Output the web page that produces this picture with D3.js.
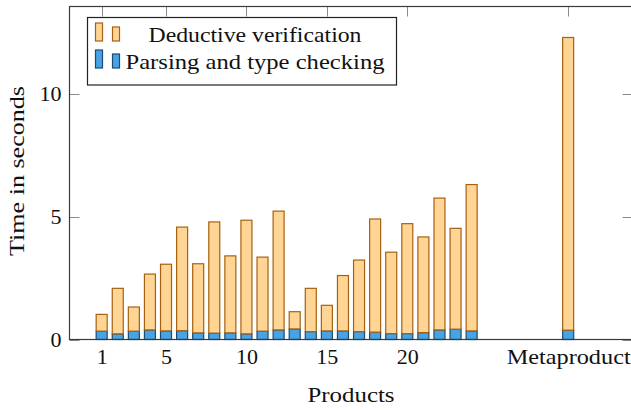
<!DOCTYPE html>
<html>
<head>
<meta charset="utf-8">
<script src="https://cdn.jsdelivr.net/npm/d3@7"></script>
<style>
  html, body { margin: 0; padding: 0; background: #fff; }
  svg { display: block; }
</style>
</head>
<body>
<svg id="chart" width="631" height="410"></svg>
<script>
// ---- data ----
const categories = ["1","2","3","4","5","6","7","8","9","10","11","12","13","14","15","16","17","18","19","20","21","22","23","24","Metaproduct"];
const positions  = [1,2,3,4,5,6,7,8,9,10,11,12,13,14,15,16,17,18,19,20,21,22,23,24,30];
const parsing    = [0.34,0.23,0.34,0.39,0.35,0.36,0.27,0.26,0.27,0.23,0.34,0.39,0.43,0.32,0.35,0.35,0.32,0.30,0.24,0.24,0.28,0.39,0.42,0.35,0.38];
const deductive  = [0.68,1.85,0.98,2.27,2.71,4.21,2.81,4.52,3.13,4.62,3.01,4.83,0.70,1.76,1.04,2.25,2.91,4.60,3.31,4.47,3.89,5.36,4.10,5.95,11.90];
const xTickValues = [1,5,10,15,20,30];
const xTickLabels = ["1","5","10","15","20","Metaproduct"];
const yTickValues = [0,5,10];
const seriesNames = ["Deductive verification","Parsing and type checking"];

// ---- layout ----
const FONT = "'Liberation Serif'";
const FS = "22px";
const svg = d3.select("#chart");
const L = 69.5, R = 632.5, T = 6.5, B = 339.5;
const x = d3.scaleLinear().domain([-1, 34]).range([L, R]);
const y = d3.scaleLinear().domain([0, 13.54]).range([B, T]);
const barW = 11;
const tickLen = 10;

const colors = {
  orangeFill: "#FFD596", orangeStroke: "#A8600F",
  blueFill: "#47A3E3", blueStroke: "#1B4A75"
};

function styleText(sel) {
  return sel.style("font-family", FONT).style("font-size", FS).style("fill", "#111");
}

const data = categories.map((c, i) => ({ c, p: positions[i], parse: parsing[i], ded: deductive[i] }));
const stack = d3.stack().keys(["parse","ded"])(data);

// ticks (drawn first; bars cover them)
const tickG = svg.append("g").attr("stroke", "#8a8a8a").attr("stroke-width", 1);
xTickValues.forEach(v => {
  const xx = Math.round(x(v)) + 0.5;
  tickG.append("line").attr("x1", xx).attr("x2", xx).attr("y1", T).attr("y2", T + tickLen);
  tickG.append("line").attr("x1", xx).attr("x2", xx).attr("y1", B).attr("y2", B - tickLen);
});
yTickValues.forEach(v => {
  const yy = Math.round(y(v)) + 0.5;
  tickG.append("line").attr("x1", L).attr("x2", L + tickLen).attr("y1", yy).attr("y2", yy);
  tickG.append("line").attr("x1", R).attr("x2", R - tickLen).attr("y1", yy).attr("y2", yy);
});

// bars
const fills = [colors.blueFill, colors.orangeFill];
const strokes = [colors.blueStroke, colors.orangeStroke];
stack.forEach((layer, li) => {
  svg.append("g").selectAll("rect").data(layer).join("rect")
    .attr("x", d => x(d.data.p) - barW / 2)
    .attr("width", barW)
    .attr("y", d => y(d[1]))
    .attr("height", d => y(d[0]) - y(d[1]))
    .attr("fill", fills[li])
    .attr("stroke", strokes[li])
    .attr("stroke-width", 1.2);
});

// frame
svg.append("rect").attr("x", L).attr("y", T).attr("width", R - L).attr("height", B - T)
  .attr("fill", "none").attr("stroke", "#3a3a3a").attr("stroke-width", 1.2);

// axes labels via d3 axes (tick labels only)
const xAxis = d3.axisBottom(x).tickValues(xTickValues)
  .tickFormat((d, i) => xTickLabels[i]).tickSize(0).tickPadding(9);
const gx = svg.append("g").attr("transform", `translate(0,${B})`).call(xAxis);
gx.select(".domain").remove();
styleText(gx.selectAll("text"));
gx.selectAll("text").filter(d => d === 30).attr("textLength", 124).attr("lengthAdjust", "spacingAndGlyphs");

const yAxis = d3.axisLeft(y).tickValues(yTickValues).tickSize(0).tickPadding(8);
const gy = svg.append("g").attr("transform", `translate(${L},0)`).call(yAxis);
gy.select(".domain").remove();
styleText(gy.selectAll("text"));

styleText(svg.append("text").attr("x", 351).attr("y", 402)
  .attr("text-anchor", "middle").attr("textLength", 87).attr("lengthAdjust", "spacingAndGlyphs")
  .text("Products"));
styleText(svg.append("text").attr("transform", `translate(24,${(T + B) / 2 - 2}) rotate(-90)`)
  .attr("text-anchor", "middle")
  .attr("textLength", 170).attr("lengthAdjust", "spacingAndGlyphs").text("Time in seconds"));

// legend
const lg = svg.append("g");
lg.append("rect").attr("x", 87.5).attr("y", 17.5).attr("width", 309).attr("height", 67.5)
  .attr("fill", "#fff").attr("stroke", "#222").attr("stroke-width", 1.2);
const legendRows = [
  { name: seriesNames[0], fill: colors.orangeFill, stroke: colors.orangeStroke, cy: 36, textLen: 213 },
  { name: seriesNames[1], fill: colors.blueFill, stroke: colors.blueStroke, cy: 63, textLen: 259 }
];
legendRows.forEach(r => {
  lg.append("rect").attr("x", 95.5).attr("y", r.cy - 13).attr("width", 7).attr("height", 18)
    .attr("fill", r.fill).attr("stroke", r.stroke).attr("stroke-width", 1.2);
  lg.append("rect").attr("x", 112.5).attr("y", r.cy - 9).attr("width", 7).attr("height", 14)
    .attr("fill", r.fill).attr("stroke", r.stroke).attr("stroke-width", 1.2);
  styleText(lg.append("text").attr("x", 255).attr("y", r.cy + 6).attr("text-anchor", "middle")
    .attr("textLength", r.textLen).attr("lengthAdjust", "spacingAndGlyphs")
    .text(r.name));
});
</script>
</body>
</html>
